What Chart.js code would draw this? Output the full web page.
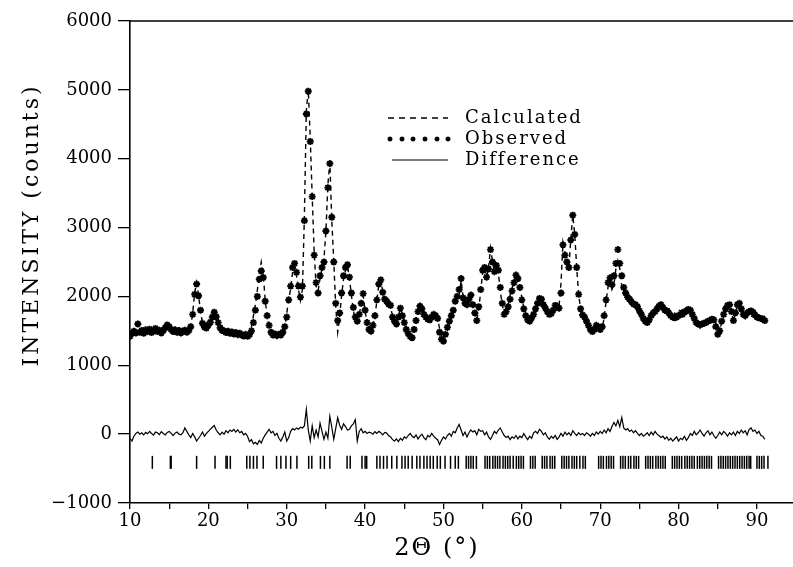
<!DOCTYPE html>
<html>
<head>
<meta charset="utf-8">
<script src="https://cdn.jsdelivr.net/npm/chart.js@4.4.1/dist/chart.umd.min.js"></script>
<style>
  html, body { margin: 0; padding: 0; background: #fff; }
  #wrap { width: 793px; height: 567px; }
</style>
</head>
<body>
<div id="wrap"><canvas id="xrd" width="793" height="567"></canvas></div>
<script>
/* global Chart */

// scan: 2θ start and step (degrees), one value per step
const SCAN_START = 10;
const SCAN_STEP = 0.25;

const OBSERVED = [
  1420,1465,1495,1470,1600,1480,1505,1465,1515,1490,1525,1475,1500,1535,1490,1510,1470,1505,1545,1585,
  1560,1520,1490,1515,1480,1505,1470,1495,1510,1480,1505,1560,1740,2030,2180,2010,1800,1610,1555,1540,
  1585,1625,1700,1770,1705,1620,1545,1505,1500,1475,1495,1465,1485,1455,1475,1445,1465,1440,1425,1450,
  1420,1445,1500,1620,1800,2000,2250,2370,2275,1930,1720,1580,1480,1440,1455,1430,1450,1440,1480,1560,
  1700,1950,2150,2420,2480,2350,2150,1990,2150,3100,4650,4980,4250,3450,2600,2200,2050,2300,2420,2500,
  2950,3580,3930,3150,2500,1900,1650,1760,2050,2300,2420,2460,2280,2050,1840,1700,1640,1740,1900,2040,
  1800,1620,1520,1495,1580,1720,1950,2180,2240,2060,1960,1930,1890,1870,1700,1640,1600,1700,1830,1720,
  1620,1520,1460,1420,1400,1520,1650,1780,1860,1820,1740,1700,1670,1660,1700,1740,1720,1680,1480,1380,
  1350,1450,1550,1640,1720,1800,1930,2000,2100,2260,1980,1900,1880,1960,2020,1880,1760,1650,1850,2100,
  2380,2420,2280,2400,2680,2500,2360,2450,2380,2130,1900,1740,1780,1850,1960,2080,2200,2310,2260,2130,
  1950,1820,1720,1660,1640,1690,1740,1820,1900,1970,1960,1880,1830,1780,1740,1750,1800,1870,1860,1830,
  2050,2750,2600,2500,2420,2820,3180,2900,2420,2030,1820,1730,1700,1640,1580,1520,1490,1520,1580,1560,
  1520,1560,1720,1950,2200,2270,2170,2300,2480,2680,2480,2300,2130,2050,1990,1960,1920,1890,1880,1850,
  1790,1740,1680,1640,1620,1660,1720,1760,1780,1820,1860,1880,1840,1800,1790,1760,1720,1700,1690,1700,
  1720,1740,1740,1770,1790,1810,1800,1740,1680,1620,1600,1590,1600,1610,1620,1640,1650,1670,1660,1560,
  1450,1500,1640,1740,1820,1870,1880,1780,1650,1760,1880,1900,1820,1740,1720,1760,1780,1790,1770,1730,
  1700,1690,1680,1670,1650
];

const CALCULATED = [
  1480,1480,1485,1480,1490,1485,1490,1485,1490,1490,1495,1490,1495,1500,1500,1500,1500,1505,1520,1540,
  1530,1510,1500,1500,1490,1490,1490,1495,1500,1500,1510,1570,1760,2050,2200,2020,1780,1620,1560,1545,
  1570,1610,1690,1740,1690,1610,1550,1510,1490,1480,1480,1470,1470,1460,1460,1450,1450,1440,1440,1440,
  1440,1480,1560,1720,1880,2090,2330,2500,2330,1950,1700,1560,1480,1450,1440,1440,1440,1450,1500,1560,
  1750,1960,2110,2360,2440,2300,2100,1940,2100,3150,4700,5000,4300,3450,2650,2150,2080,2260,2400,2540,
  2950,3620,3950,3100,2520,1850,1480,1700,2020,2250,2380,2450,2260,2020,1800,1640,1680,1740,1880,2020,
  1790,1620,1510,1490,1590,1700,1940,2170,2240,2070,1940,1920,1880,1840,1720,1660,1640,1700,1840,1740,
  1640,1540,1470,1430,1420,1530,1650,1780,1860,1820,1750,1700,1670,1660,1690,1740,1740,1700,1530,1410,
  1380,1470,1540,1640,1730,1770,1920,1960,2020,2230,2000,1900,1880,1950,1980,1860,1760,1660,1810,2080,
  2350,2420,2280,2420,2700,2520,2340,2440,2350,2080,1880,1750,1800,1870,2020,2110,2240,2310,2300,2150,
  1980,1830,1740,1700,1660,1720,1730,1790,1880,1920,1940,1880,1830,1800,1780,1770,1820,1870,1900,1860,
  2200,2780,2620,2520,2420,2830,3180,2900,2420,2020,1820,1730,1700,1640,1580,1540,1500,1530,1560,1560,
  1500,1550,1680,1930,2140,2240,2100,2170,2400,2520,2400,2140,2060,2000,1930,1930,1870,1880,1840,1850,
  1800,1740,1700,1650,1610,1670,1700,1770,1750,1820,1860,1900,1860,1840,1820,1830,1770,1790,1760,1730,
  1800,1790,1810,1790,1840,1840,1800,1760,1660,1640,1590,1540,1600,1630,1610,1600,1660,1640,1680,1620,
  1480,1480,1640,1710,1810,1880,1860,1790,1630,1780,1850,1890,1770,1720,1680,1770,1720,1700,1730,1680,
  1690,1660,1700,1690,1720
];

const DIFFERENCE = [
  -60,-100,-30,10,30,0,20,-10,25,5,40,10,-15,30,20,-5,35,10,-10,25,
  40,10,-20,15,30,0,-10,20,90,40,-10,-50,10,-40,-100,-60,-20,30,-30,10,
  40,70,100,125,60,20,-10,30,0,50,20,60,40,70,30,65,20,40,-10,10,
  -30,-110,-80,-140,-120,-150,-90,-130,-60,-10,30,70,20,40,-20,10,-60,-100,-40,30,
  -100,-50,40,80,60,90,70,100,90,120,360,60,-100,120,-50,60,-40,160,40,-75,
  30,-60,260,100,-75,80,240,130,70,150,110,60,70,120,150,210,-100,40,80,20,
  40,10,30,20,0,35,10,40,20,-10,25,15,-20,-40,-80,-100,-70,-110,-60,-90,
  -40,-60,-20,10,-30,-50,-10,-70,-30,0,-50,-80,-20,-40,10,-30,-60,-80,-150,-90,
  -40,-70,-20,10,-30,40,20,90,140,60,-20,30,-40,20,60,30,50,-10,70,40,
  50,-10,30,-40,-75,-20,40,10,60,90,30,-20,-50,-30,-80,-40,-60,-20,-70,-30,
  -50,10,-40,-80,-30,-60,20,40,10,70,40,-10,20,-40,-75,-30,-60,-20,-75,-40,
  10,-30,30,-10,20,-20,50,10,-20,20,-10,10,-20,20,0,-30,10,-20,30,0,
  40,10,60,20,80,40,110,170,120,200,110,240,90,60,80,40,60,20,50,10,
  -20,10,-30,-10,20,-20,30,-10,40,0,-20,-50,-30,-70,-40,-90,-60,-100,-70,-40,
  -100,-60,-80,-30,-90,-50,10,-20,40,-10,20,60,10,-30,20,50,-10,30,-20,-60,
  -20,30,-10,40,10,-30,20,-10,30,-20,40,10,60,20,50,-10,70,90,40,60,
  10,40,-20,-30,-75
];

// Bragg reflection positions (2θ, degrees)
const REFLECTIONS = [
  12.85, 15.15, 15.25, 18.5, 20.85, 22.25, 22.4, 22.8, 24.9, 25.3, 25.75, 26.2, 27.0, 28.7, 29.25,
  29.9, 30.5, 31.3, 32.8, 33.2, 34.3, 34.8, 35.5, 37.7, 38.1, 39.6, 40.0, 40.2, 41.5, 41.9, 42.35,
  42.8, 43.4, 44.05, 44.7, 45.1, 45.5, 46.0, 46.6, 47.0, 47.5, 47.9, 48.3, 48.7, 49.2, 49.6, 50.2,
  50.9, 51.5, 51.9, 52.9, 53.2, 53.5, 53.8, 54.2, 55.3, 55.6, 55.9, 56.3, 56.6, 56.9, 57.2, 57.6,
  57.9, 58.2, 58.5, 58.9, 59.3, 59.6, 59.9, 60.2, 61.1, 61.4, 61.7, 62.6, 62.9, 63.2, 63.6, 63.9,
  64.2, 65.1, 65.4, 65.7, 66.0, 66.4, 66.7, 67.0, 67.4, 67.8, 68.1, 69.8, 70.1, 70.4, 70.8, 71.1,
  71.4, 71.7, 72.6, 72.9, 73.2, 73.6, 73.9, 74.3, 74.6, 74.9, 75.8, 76.1, 76.4, 76.7, 77.1, 77.4,
  77.7, 78.0, 78.3, 79.2, 79.5, 79.8, 80.1, 80.4, 80.8, 81.1, 81.4, 81.7, 82.0, 82.4, 82.7, 83.0,
  83.3, 83.6, 83.9, 84.2, 85.1, 85.4, 85.7, 86.0, 86.3, 86.6, 86.9, 87.2, 87.5, 87.8, 88.1, 88.4,
  88.7, 89.0, 89.2, 90.0, 90.3, 90.6, 90.9, 91.4
];
const REFLECTION_ROW = -410;   // intensity level where the reflection bars sit

const Y_TICKS = [-1000, 0, 1000, 2000, 3000, 4000, 5000, 6000];
const X_TICKS = [10, 15, 20, 25, 30, 35, 40, 45, 50, 55, 60, 65, 70, 75, 80, 85, 90];
const X_LABELS = [10, 20, 30, 40, 50, 60, 70, 80, 90];

const LEGEND = ['Calculated', 'Observed', 'Difference'];

const SERIF = '"DejaVu Serif", "Liberation Serif", serif';

const twoTheta = OBSERVED.map((_, i) => SCAN_START + i * SCAN_STEP);
const pts = arr => arr.map((v, i) => ({ x: twoTheta[i], y: v }));

// top frame line, axis titles and the hand-drawn legend
const decor = {
    id: 'decor',
    afterDraw(chart) {
        const { ctx, chartArea: a } = chart;
        ctx.save();
        ctx.strokeStyle = '#000';
        ctx.fillStyle = '#000';
        ctx.lineWidth = 1.6;
        ctx.beginPath();
        ctx.moveTo(a.left, a.top);
        ctx.lineTo(a.right, a.top);
        ctx.stroke();

        // y title
        ctx.save();
        ctx.font = '22px ' + SERIF;
        ctx.letterSpacing = '3px';
        ctx.textAlign = 'center';
        ctx.textBaseline = 'middle';
        ctx.translate(32, 225);
        ctx.rotate(-Math.PI / 2);
        ctx.fillText('INTENSITY (counts)', 0, 0);
        ctx.restore();

        // x title
        ctx.save();
        ctx.font = '24px ' + SERIF;
        ctx.letterSpacing = '2px';
        ctx.textAlign = 'center';
        ctx.textBaseline = 'middle';
        ctx.fillText('2Θ (°)', 437, 549);
        ctx.restore();

        // legend
        const rows = [118, 139, 160];
        ctx.lineWidth = 1.3;
        ctx.setLineDash([6, 5]);
        ctx.beginPath(); ctx.moveTo(388, rows[0]); ctx.lineTo(448, rows[0]); ctx.stroke();
        ctx.setLineDash([]);
        [390, 402, 413, 425, 437, 448].forEach(x =>
            Chart.helpers.drawPoint(ctx, { pointStyle: 'star', radius: 2.5, rotation: 0, borderWidth: 1.3 }, x, rows[1]));
        ctx.lineWidth = 1.1;
        ctx.beginPath(); ctx.moveTo(392, rows[2]); ctx.lineTo(448, rows[2]); ctx.stroke();

        ctx.font = '18px ' + SERIF;
        ctx.letterSpacing = '2px';
        ctx.textAlign = 'left';
        ctx.textBaseline = 'middle';
        LEGEND.forEach((t, i) => ctx.fillText(t, 465, rows[i]));
        ctx.restore();
    }
};

new Chart(document.getElementById('xrd'), {
    type: 'line',
    data: {
        datasets: [
            { label: 'Observed', data: pts(OBSERVED), showLine: false, pointStyle: 'star',
              pointRadius: 3.5, pointBorderWidth: 1.9, borderColor: '#000', backgroundColor: '#000' },
            { label: 'Calculated', data: pts(CALCULATED), borderColor: '#000', borderWidth: 1.4,
              borderDash: [5, 4], pointRadius: 0, tension: 0 },
            { label: 'Difference', data: pts(DIFFERENCE), borderColor: '#000', borderWidth: 1.2,
              pointRadius: 0, tension: 0 },
            { label: 'Reflections', data: REFLECTIONS.map(t => ({ x: t, y: REFLECTION_ROW })),
              showLine: false, pointStyle: 'line', rotation: 90, pointRadius: 6.5,
              pointBorderWidth: 1.5, borderColor: '#000' }
        ]
    },
    options: {
        responsive: false,
        devicePixelRatio: 1,
        animation: false,
        events: [],
        layout: { autoPadding: false, padding: { top: 21, right: 0, bottom: 0, left: 0 } },
        plugins: { legend: { display: false }, tooltip: { enabled: false } },
        scales: {
            x: {
                type: 'linear', min: 10, max: 94.6,
                afterFit(s) { s.height = 64; s.paddingRight = 0; s.paddingLeft = 0; },
                afterBuildTicks(s) { s.ticks = X_TICKS.map(v => ({ value: v })); },
                border: { color: '#000', width: 1.6 },
                grid: { drawOnChartArea: false, drawTicks: true, tickLength: 6, color: '#000', lineWidth: 1.3 },
                ticks: {
                    autoSkip: false, maxRotation: 0, padding: 2, color: '#000',
                    font: { family: SERIF, size: 18 },
                    callback: v => X_LABELS.includes(v) ? String(v) : ''
                }
            },
            y: {
                min: -1000, max: 6000,
                afterFit(s) { s.width = 130; },
                afterBuildTicks(s) { s.ticks = Y_TICKS.map(v => ({ value: v })); },
                border: { color: '#000', width: 1.6 },
                grid: { drawOnChartArea: false, drawTicks: true, tickLength: 12, color: '#000', lineWidth: 1.3 },
                ticks: {
                    padding: 6, color: '#000', font: { family: SERIF, size: 18 },
                    callback: v => v < 0 ? '\u2212' + Math.abs(v) : String(v)
                }
            }
        }
    },
    plugins: [decor]
});
</script>
</body>
</html>
